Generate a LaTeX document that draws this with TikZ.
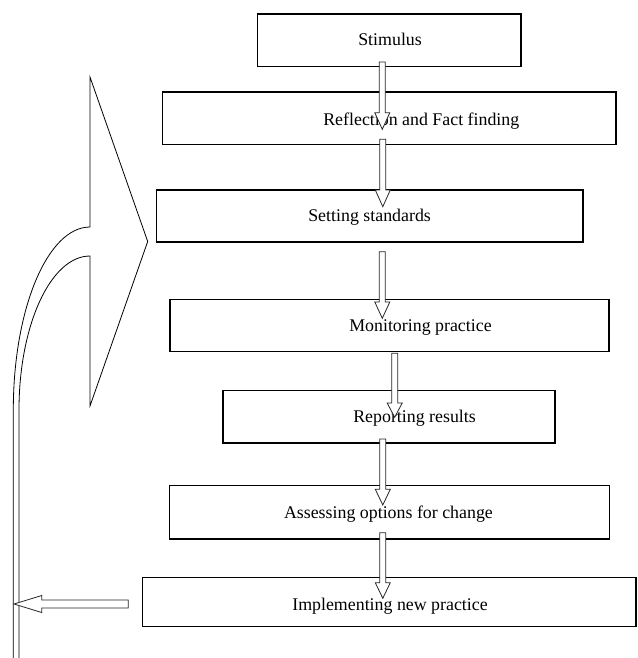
\documentclass[tikz,border=0pt]{standalone}
\usepackage{fontspec}
\setmainfont{Liberation Serif}
\tikzset{
  box/.style 2 args={draw=black, line width=1.1pt, fill=none, inner sep=0pt, outer sep=0pt,
    minimum width=#1*0.75pt, minimum height=#2*0.75pt},
  lbl/.style={anchor=base west, inner sep=0pt, outer sep=0pt,
    font=\fontsize{13.4}{16}\selectfont},
  arr/.style={draw=black!85, line width=0.6pt, fill=white, line join=miter},
  bigarr/.style={draw=black, line width=0.6pt, line join=miter},
  pics/downarr/.style 2 args={code={
    \draw[arr] (-3,0) -- (-3,#1) -- (-7.5,#1) -- (0,#2) -- (7.5,#1) -- (3,#1) -- (3,0) -- cycle;
  }},
  pics/leftarr/.style 2 args={code={
    \draw[arr] (0,-4) -- (-#1,-4) -- (-#1,-8.5) -- (-#2,0) -- (-#1,8.5) -- (-#1,4) -- (0,4) -- cycle;
  }}
}
\begin{document}
\begin{tikzpicture}[x=0.75pt,y=-0.75pt]
\useasboundingbox (0,0) rectangle (637,658);

% big curved return arrow
\draw[bigarr] (13.3,658) -- (13.3,410)
  .. controls (13.3,308.9) and (47.6,227) .. (90,227)
  -- (90,77) -- (147.7,241.5) -- (90,406) -- (90,256)
  .. controls (50.8,256) and (19,325) .. (19,410) -- (19,658);

% boxes
\node[box={263.7}{52.7}] (b1) at (389.2,40.3) {};
\node[box={453.3}{52.7}] (b2) at (389.3,118.3) {};
\node[box={426.3}{52}]   (b3) at (369.8,216) {};
\node[box={439}{52.4}]   (b4) at (389.5,325.5) {};
\node[box={332}{52.3}]   (b5) at (389,416.8) {};
\node[box={440}{53.3}]   (b6) at (389.3,512.3) {};
\node[box={493.3}{49}]   (b7) at (389.3,602.2) {};

% texts
\node[lbl] (t1) at (358.3,45.7) {Stimulus};
\node[lbl] (t2) at (323.3,125) {Reflection and Fact finding};
\node[lbl] (t3) at (308.3,221.7) {Setting standards};
\node[lbl] (t4) at (349.3,331) {Monitoring practice};
\node[lbl] (t5) at (353.3,422.7) {Reporting results};
\node[lbl] (t6) at (284,518.3) {Assessing options for change};
\node[lbl] (t7) at (292.3,610) {Implementing new practice};

% block arrows
\coordinate (s1) at (382.3,62);
\coordinate (s2) at (382.8,139.3);
\coordinate (s3) at (382.3,251.7);
\coordinate (s4) at (394.7,353.3);
\coordinate (s5) at (382.8,439);
\coordinate (s6) at (382.8,532.7);
\pic at (s1) {downarr={50.7}{67.3}};
\pic at (s2) {downarr={50.7}{67.4}};
\pic at (s3) {downarr={50.3}{66.6}};
\pic at (s4) {downarr={49.7}{64}};
\pic at (s5) {downarr={50.3}{66}};
\pic at (s6) {downarr={50}{65.6}};

\coordinate (ls) at (128.3,604);
\pic at (ls) {leftarr={86.6}{114.3}};
\end{tikzpicture}
\end{document}
